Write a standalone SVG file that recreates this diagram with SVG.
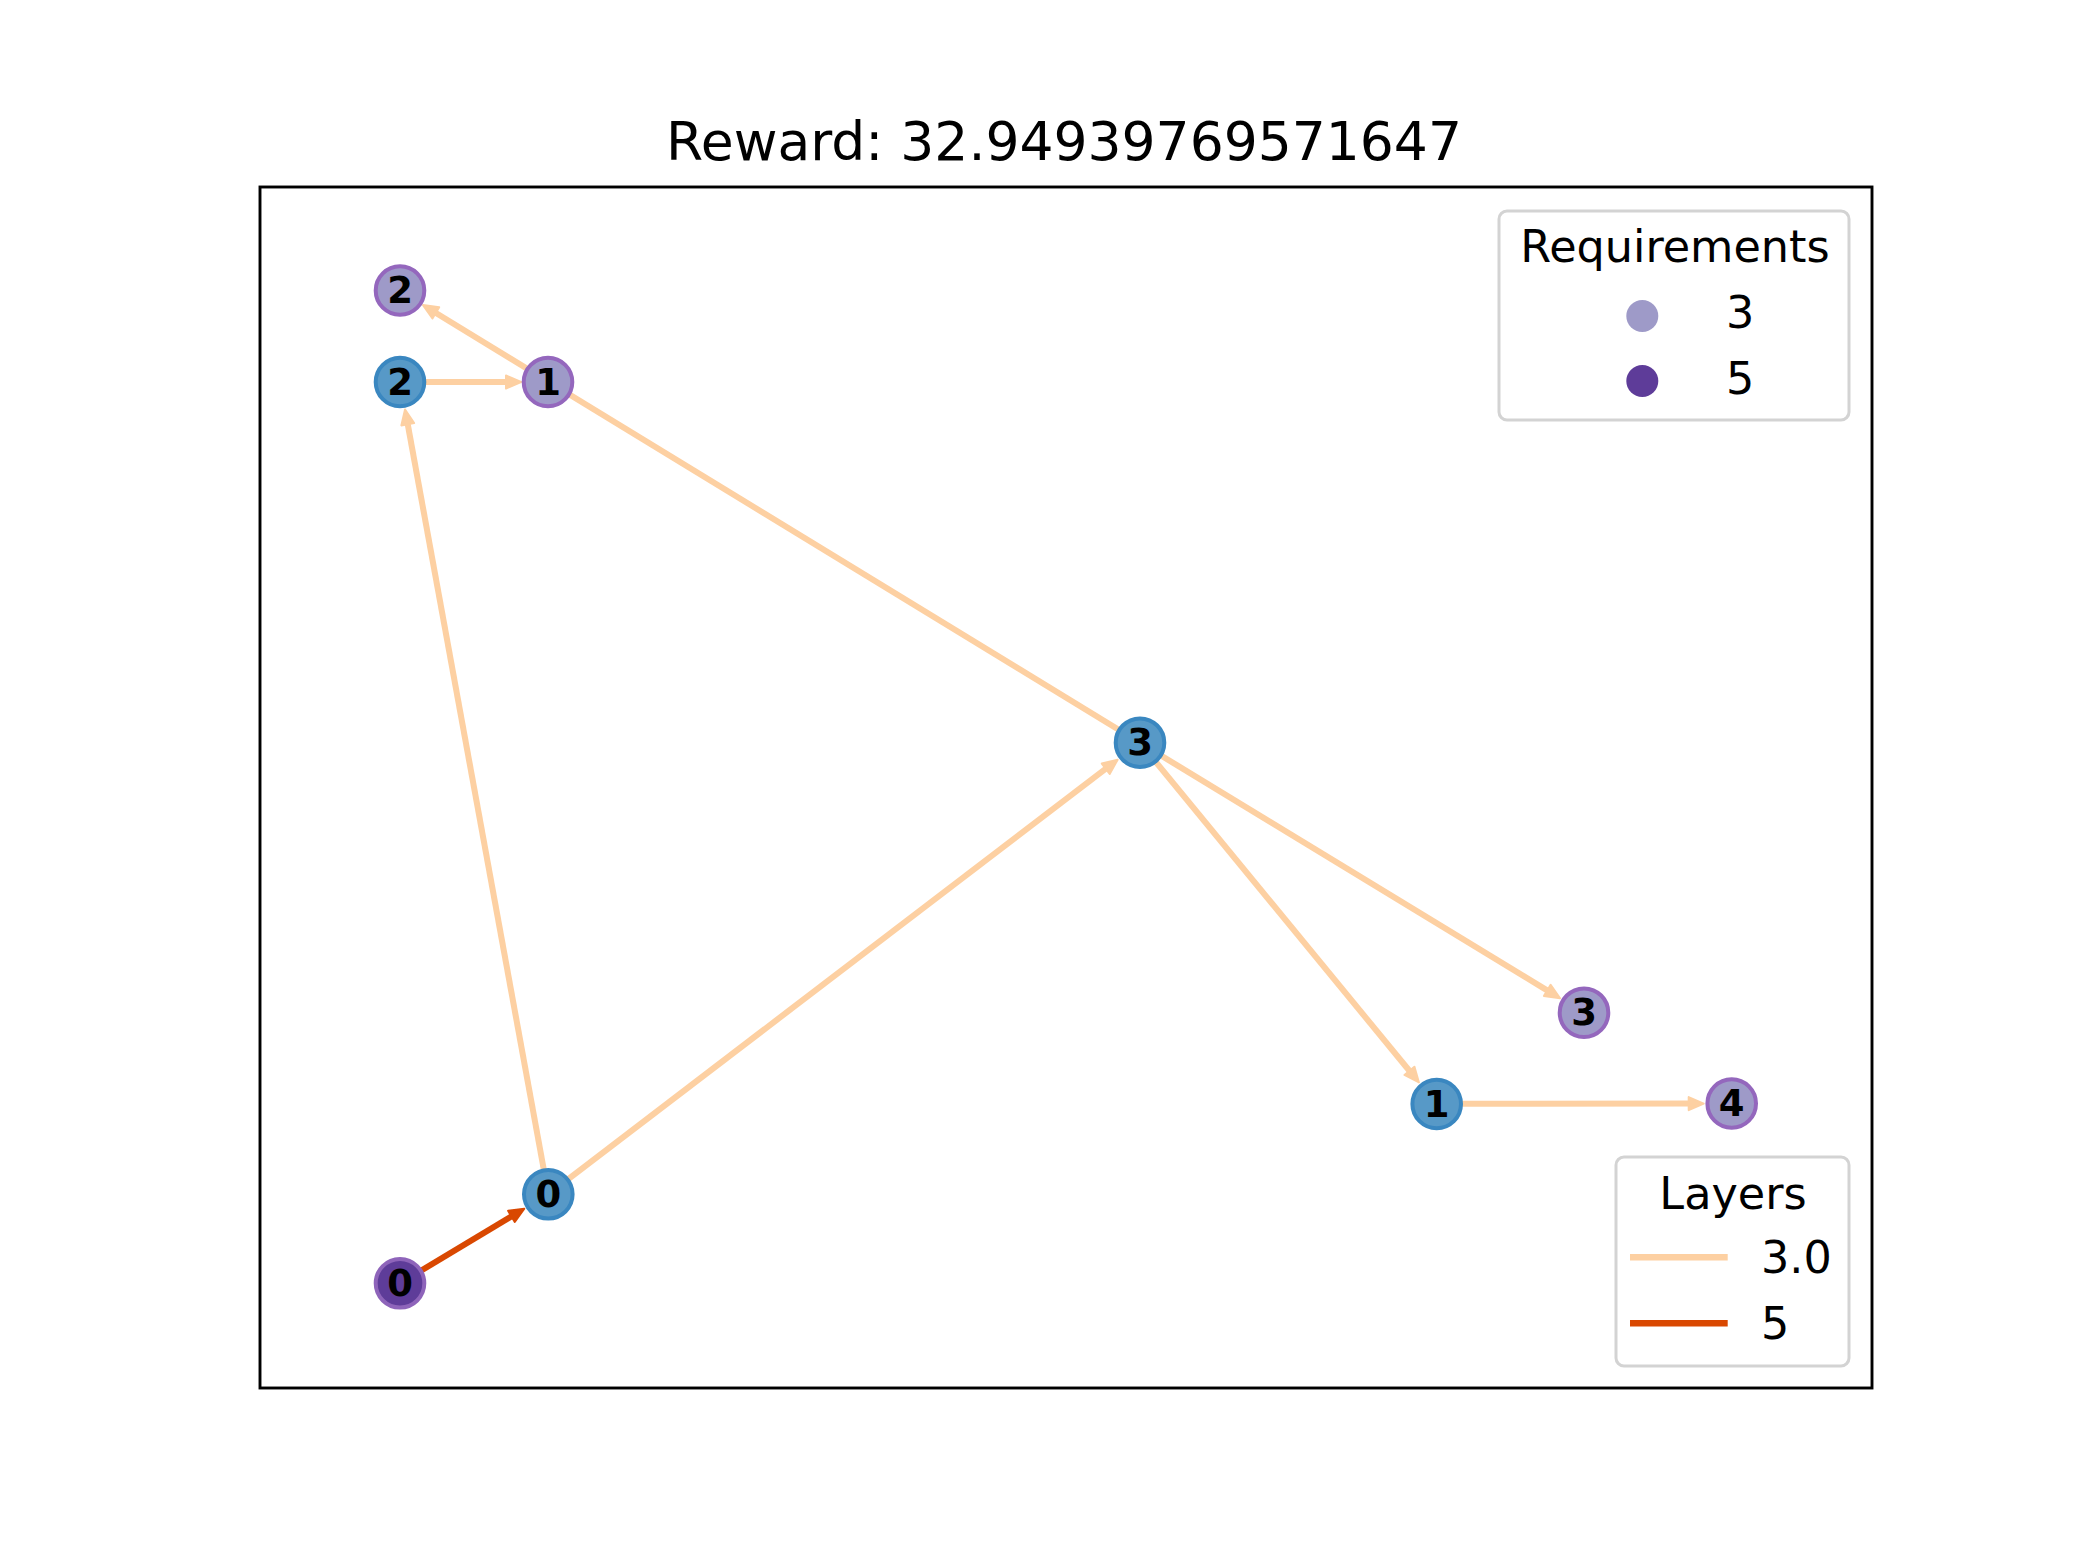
<svg xmlns="http://www.w3.org/2000/svg" width="2080" height="1560" viewBox="0 0 2080 1560">
<style>
.t{font-family:"DejaVu Sans",sans-serif;fill:#000}
.lbl{font-family:"DejaVu Sans",sans-serif;font-weight:bold;font-size:37px;text-anchor:middle;dominant-baseline:central;fill:#000}
.el{stroke:#fdd0a2;stroke-width:6;fill:none}
.ed{stroke:#d94801;stroke-width:6;fill:none}
.nb{fill:#5799c7;stroke:#3a87c0;stroke-width:4}
.np{fill:#9e9ac8;stroke:#9467bd;stroke-width:4}
.nd{fill:#5e3c99;stroke:#8e64ba;stroke-width:4}
.leg{fill:#fff;fill-opacity:0.8;stroke:#d3d3d3;stroke-width:3}
</style>
<defs>
<marker id="al" markerUnits="userSpaceOnUse" viewBox="-2 -9 20 18" markerWidth="20" markerHeight="18" refX="8" refY="0" orient="auto">
<path d="M0,-6.5 L15,0 L0,6.5 Z" fill="#fdd0a2" stroke="#fdd0a2" stroke-width="2" stroke-linejoin="round"/>
</marker>
<marker id="ad" markerUnits="userSpaceOnUse" viewBox="-2 -9 20 18" markerWidth="20" markerHeight="18" refX="8" refY="0" orient="auto">
<path d="M0,-6.5 L15,0 L0,6.5 Z" fill="#d94801" stroke="#d94801" stroke-width="2" stroke-linejoin="round"/>
</marker>
</defs>
<rect width="2080" height="1560" fill="#fff"/>
<text class="t" x="1064" y="160" font-size="53.5" text-anchor="middle">Reward: 32.94939769571647</text>
<rect x="260" y="187" width="1612" height="1201" fill="none" stroke="#000" stroke-width="2.9"/>
<g id="connectors">
<line class="el" x1="1140" y1="742.7" x2="429.0" y2="308.7" marker-end="url(#al)"/>
<line class="el" x1="400" y1="382" x2="514" y2="382" marker-end="url(#al)"/>
<line class="el" x1="548.3" y1="1194.3" x2="406.3" y2="416.4" marker-end="url(#al)"/>
<line class="el" x1="548.3" y1="1194.3" x2="1112.1" y2="763.9" marker-end="url(#al)"/>
<line class="el" x1="1140" y1="742.7" x2="1554.1" y2="994.6" marker-end="url(#al)"/>
<line class="el" x1="1140" y1="742.7" x2="1414.5" y2="1077.0" marker-end="url(#al)"/>
<line class="el" x1="1436.7" y1="1103.8" x2="1696.7" y2="1103.6" marker-end="url(#al)"/>
<line class="ed" x1="400" y1="1283.3" x2="518.3" y2="1212.3" marker-end="url(#ad)"/>
</g>
<g id="node-p2"><circle class="np" cx="400" cy="290.5" r="24.3"/><text class="lbl" x="400" y="290.5">2</text></g>
<g id="node-b2"><circle class="nb" cx="400" cy="382" r="24.3"/><text class="lbl" x="400" y="382">2</text></g>
<g id="node-p1"><circle class="np" cx="548" cy="382" r="24.3"/><text class="lbl" x="548" y="382">1</text></g>
<g id="node-b3"><circle class="nb" cx="1140" cy="742.7" r="24.3"/><text class="lbl" x="1140" y="742.7">3</text></g>
<g id="node-p3"><circle class="np" cx="1584" cy="1012.7" r="24.3"/><text class="lbl" x="1584" y="1012.7">3</text></g>
<g id="node-b1"><circle class="nb" cx="1436.7" cy="1104" r="24.3"/><text class="lbl" x="1436.7" y="1104">1</text></g>
<g id="node-p4"><circle class="np" cx="1731.7" cy="1103.5" r="24.3"/><text class="lbl" x="1731.7" y="1103.5">4</text></g>
<g id="node-b0"><circle class="nb" cx="548.3" cy="1194.3" r="24.3"/><text class="lbl" x="548.3" y="1194.3">0</text></g>
<g id="node-p0"><circle class="nd" cx="400" cy="1283.3" r="24.3"/><text class="lbl" x="400" y="1283.3">0</text></g>
<g id="legend-requirements">
<rect class="leg" x="1499" y="211" width="350" height="209" rx="8"/>
<text class="t" x="1675" y="262" font-size="44.5" text-anchor="middle">Requirements</text>
<circle cx="1642.3" cy="316" r="16" fill="#9e9ac8"/>
<text class="t" x="1726" y="328" font-size="44.5">3</text>
<circle cx="1642.3" cy="381" r="16" fill="#5e3c99"/>
<text class="t" x="1726" y="393.5" font-size="44.5">5</text>
</g>
<g id="legend-layers">
<rect class="leg" x="1616" y="1157" width="233" height="209" rx="8"/>
<text class="t" x="1733" y="1208.5" font-size="44.5" text-anchor="middle">Layers</text>
<line x1="1630" y1="1257.3" x2="1727.7" y2="1257.3" stroke="#fdd0a2" stroke-width="6.5"/>
<text class="t" x="1761" y="1273" font-size="44.5">3.0</text>
<line x1="1630" y1="1323.3" x2="1727.7" y2="1323.3" stroke="#d94801" stroke-width="6.5"/>
<text class="t" x="1761" y="1338.5" font-size="44.5">5</text>
</g>
</svg>
